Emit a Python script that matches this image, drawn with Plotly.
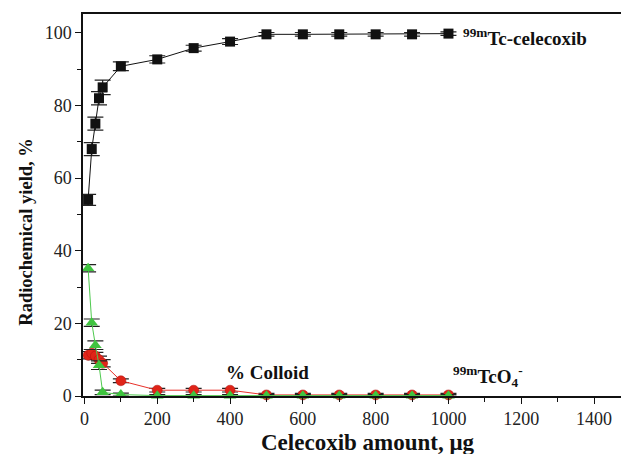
import plotly.graph_objects as go

x_amount = [10, 20, 30, 40, 50, 100, 200, 300, 400, 500, 600, 700, 800, 900, 1000]
tc_celecoxib = [54, 68, 75, 82, 85, 90.8, 92.7, 95.8, 97.6, 99.6, 99.6, 99.6, 99.6, 99.6, 99.8]
tc_celecoxib_err = [1.5, 1.8, 1.8, 1.8, 2.0, 1.2, 1.0, 0.8, 0.8, 0.5, 0.5, 0.5, 0.5, 0.5, 0.5]
colloid = [11.2, 11.8, 11.0, 10.0, 9.0, 4.2, 1.6, 1.6, 1.6, 0.3, 0.3, 0.3, 0.3, 0.3, 0.3]
colloid_err = [1.0, 1.0, 1.0, 1.0, 1.0, 0.5, 0.5, 0.5, 0.5, 0.4, 0.4, 0.4, 0.4, 0.4, 0.4]
pertechnetate = [35.2, 20.2, 14.0, 8.5, 1.0, 0.4, 0.1, 0.1, 0.1, 0.1, 0.1, 0.1, 0.1, 0.1, 0.1]
pertechnetate_err = [1.0, 1.0, 1.2, 1.2, 0.6, 0.4, 0.3, 0.3, 0.3, 0.3, 0.3, 0.3, 0.3, 0.3, 0.3]

x_ticks = [0, 200, 400, 600, 800, 1000, 1200, 1400]
y_ticks = [0, 20, 40, 60, 80, 100]

serif = "Liberation Serif, Times New Roman, serif"

fig = go.Figure()

fig.add_trace(go.Scatter(
    x=x_amount, y=colloid, mode="lines+markers",
    line=dict(color="#e8312a", width=1),
    marker=dict(symbol="circle", size=10, color="#e02418", line=dict(color="#b01010", width=0.5)),
    error_y=dict(type="data", array=colloid_err, color="#222222", thickness=1.2, width=8),
    cliponaxis=False, showlegend=False))

fig.add_trace(go.Scatter(
    x=x_amount, y=pertechnetate, mode="lines+markers",
    line=dict(color="#4ec94e", width=1),
    marker=dict(symbol="triangle-up", size=11, color="#3fc43f", line=dict(width=0)),
    error_y=dict(type="data", array=pertechnetate_err, color="#222222", thickness=1.2, width=8),
    cliponaxis=False, showlegend=False))

fig.add_trace(go.Scatter(
    x=x_amount, y=tc_celecoxib, mode="lines+markers",
    line=dict(color="#111111", width=1),
    marker=dict(symbol="square", size=10, color="#111111"),
    error_y=dict(type="data", array=tc_celecoxib_err, color="#222222", thickness=1.2, width=8),
    cliponaxis=False, showlegend=False))

# series labels
fig.add_annotation(x=1034, y=99, xref="x", yref="y", xanchor="left", yanchor="middle",
                   text="<b><sup>99m</sup>Tc-celecoxib</b>", showarrow=False,
                   font=dict(family=serif, size=19, color="#111111"))
fig.add_annotation(x=382, y=6.6, xref="x", yref="y", xanchor="left", yanchor="middle",
                   text="<b>% Colloid</b>", showarrow=False,
                   font=dict(family=serif, size=19, color="#111111"))
fig.add_annotation(x=1008, y=5.3, xref="x", yref="y", xanchor="left", yanchor="middle",
                   text="<b><sup>99m</sup>TcO<sub>4</sub><sup>-</sup></b>", showarrow=False,
                   font=dict(family=serif, size=19, color="#111111"))

# axis titles
fig.add_annotation(x=0.528, y=-0.123, xref="paper", yref="paper", xanchor="center", yanchor="middle",
                   text="<b>Celecoxib amount, μg</b>", showarrow=False,
                   font=dict(family=serif, size=23, color="#111111"))
fig.add_annotation(x=-0.106, y=0.43, xref="paper", yref="paper", xanchor="center", yanchor="middle",
                   text="<b>Radiochemical yield, %</b>", showarrow=False, textangle=-90,
                   font=dict(family=serif, size=18.5, color="#111111"))

fig.update_layout(
    width=621, height=454,
    margin=dict(l=83, r=0, t=14, b=58, autoexpand=False),
    paper_bgcolor="white", plot_bgcolor="white",
    font=dict(family=serif, size=18, color="#111111"),
    xaxis=dict(
        range=[-4, 1474], tickvals=x_ticks,
        ticks="outside", ticklen=6, tickwidth=1, tickcolor="#111111",
        minor=dict(dtick=100, tick0=0, ticks="outside", ticklen=4, tickcolor="#111111"),
        showline=True, linecolor="#111111", linewidth=1.5, mirror=True,
        showgrid=False, zeroline=False, automargin=False,
        tickfont=dict(family=serif, size=18, color="#222222")),
    yaxis=dict(
        range=[0, 105.2], tickvals=y_ticks,
        ticks="outside", ticklen=6, tickwidth=1, tickcolor="#111111",
        minor=dict(dtick=10, tick0=0, ticks="outside", ticklen=4, tickcolor="#111111"),
        showline=True, linecolor="#111111", linewidth=1.5,
        showgrid=False, zeroline=False, automargin=False,
        tickfont=dict(family=serif, size=18, color="#222222")),
)

fig.write_html("out.html", config={"displayModeBar": False},
               post_script="document.body.style.margin='0px';document.body.style.overflow='hidden';")
